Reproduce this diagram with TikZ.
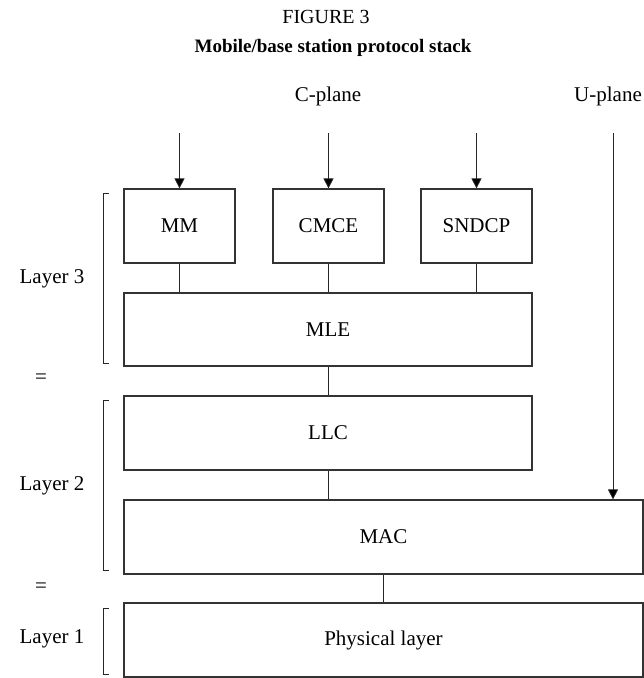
\documentclass[tikz,border=0pt]{standalone}
\usepackage{fontspec}
\setmainfont{Liberation Serif}
\usetikzlibrary{arrows.meta,positioning}

\begin{document}
\begin{tikzpicture}[x=1pt,y=-1pt,>={Triangle[width=10pt,length=10pt]},
    font=\fontsize{21}{24}\selectfont]
\tikzstyle{entity}=[draw=black!80,line width=1.2pt,fill=white,minimum height=74pt,inner sep=0pt]
\tikzstyle{link}=[draw=black!85,line width=0.8pt]
\tikzstyle{brace}=[draw=black!85,line width=0.8pt]
\useasboundingbox (0,0) rectangle (644,678);

\node[font=\fontsize{20}{23}\selectfont] (fig) at (326,17) {FIGURE 3};
\node[font=\fontsize{19}{22}\selectfont\bfseries] (title) at (333,48) {Mobile/base station protocol stack};
\node (cplane) at (328,96) {C-plane};
\node (uplane) at (608,96) {U-plane};

\node[entity,minimum width=111pt] (MM) at (179.5,226) {MM};
\node[entity,minimum width=111pt] (CMCE) at (328.5,226) {CMCE};
\node[entity,minimum width=111pt] (SNDCP) at (476.5,226) {SNDCP};
\node[entity,minimum width=408pt,minimum height=73pt] (MLE) at (328,329.5) {MLE};
\node[entity,minimum width=408pt] (LLC) at (328,433) {LLC};
\node[entity,minimum width=519pt] (MAC) at (383.5,537) {MAC};
\node[entity,minimum width=519pt] (PHY) at (383.5,640) {Physical layer};

\coordinate (mmin) at (179.5,133);
\coordinate (cmcein) at (328.5,133);
\coordinate (sndcpin) at (476.5,133);
\coordinate (uin) at (613,133);

\path[link] (mmin) edge[->] (MM)
      (cmcein) edge[->] (CMCE)
      (sndcpin) edge[->] (SNDCP)
      (uin) edge[->] (uin |- MAC.north)
      (MM) edge (MM |- MLE.north)
      (CMCE) edge (CMCE |- MLE.north)
      (SNDCP) edge (SNDCP |- MLE.north)
      (MLE) edge (LLC)
      (LLC) edge (LLC |- MAC.north)
      (MAC) edge (PHY);

\draw[brace] (109,193) -| (103,363) -- (109,363);
\draw[brace] (109,400) -| (103,570) -- (109,570);
\draw[brace] (109,608) -| (103,674) -- (109,674);

\node (l3) at (52,279) {Layer 3};
\node (eq1) at (41,379) {=};
\node (l2) at (52,486) {Layer 2};
\node (eq2) at (41,588) {=};
\node (l1) at (52,639) {Layer 1};
\end{tikzpicture}
\end{document}
